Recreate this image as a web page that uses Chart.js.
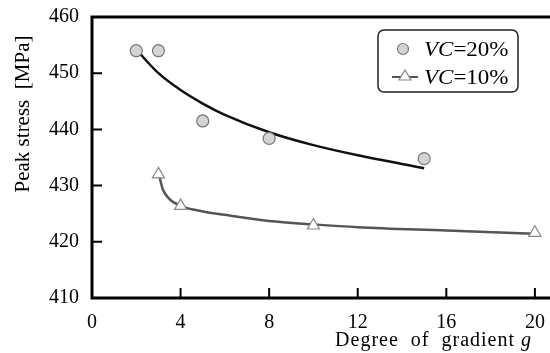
<!DOCTYPE html>
<html>
<head>
<meta charset="utf-8">
<script src="https://cdn.jsdelivr.net/npm/chart.js@4.4.0/dist/chart.umd.min.js"></script>
<style>
  html, body { margin:0; padding:0; background:#fff; }
  #wrap { width:550px; height:353px; position:relative; }
</style>
</head>
<body>
<div id="wrap"><canvas id="c" width="550" height="353"></canvas></div>
<script>
// measured points
const vc20X = [2, 3, 5, 8, 15];
const vc20Y = [454, 454, 441.5, 438.4, 434.8];
const vc10X = [3, 4, 10, 20];
const vc10Y = [432, 426.4, 422.9, 421.6];

// fitted curves
const fit20X = [2, 3, 4, 5, 6, 8, 10, 12, 15];
const fit20Y = [454.2, 450, 447, 444.6, 442.6, 439.5, 437.2, 435.4, 433.1];
const fit10X = [3.05, 3.2, 3.5, 4, 5, 6, 8, 10, 12, 16, 20];
const fit10Y = [431.5, 429.3, 427.6, 426.4, 425.4, 424.8, 423.7, 423.1, 422.6, 422, 421.4];

const xTicks = [0, 4, 8, 12, 16, 20];
const yTicks = [410, 420, 430, 440, 450, 460];

const SERIF = '"Liberation Serif", "DejaVu Serif", serif';
const pts = (xs, ys) => xs.map((x, i) => ({x, y: ys[i]}));

// text a bit wider than the font, like the scan
function wideText(ctx, str, x, y, sx) {
  ctx.save();
  ctx.translate(x, y);
  ctx.scale(sx, 1);
  ctx.fillText(str, 0, 0);
  ctx.restore();
  return ctx.measureText(str).width * sx;
}

const frame = {
  id: 'frame',
  afterDraw(chart) {
    const {ctx, chartArea: a, scales: {x, y}} = chart;
    ctx.save();
    ctx.strokeStyle = '#000';
    ctx.lineWidth = 3;
    ctx.beginPath();
    ctx.moveTo(a.left - 1.5, a.top); ctx.lineTo(550, a.top);
    ctx.moveTo(a.left, a.top); ctx.lineTo(a.left, a.bottom);
    ctx.moveTo(a.left - 1.5, a.bottom); ctx.lineTo(550, a.bottom);
    ctx.stroke();
    // inward ticks
    ctx.lineWidth = 2;
    ctx.beginPath();
    yTicks.forEach(v => { const py = y.getPixelForValue(v); ctx.moveTo(a.left, py); ctx.lineTo(a.left + 10, py); });
    xTicks.forEach(v => { const px = x.getPixelForValue(v); ctx.moveTo(px, a.bottom); ctx.lineTo(px, a.bottom - 10); });
    ctx.stroke();

    // axis titles
    ctx.fillStyle = '#000';
    ctx.font = '21px ' + SERIF;
    ctx.textBaseline = 'middle';
    ctx.save();
    ctx.translate(23, 114);
    ctx.rotate(-Math.PI / 2);
    ctx.textAlign = 'center';
    ctx.fillText('Peak stress  [MPa]', 0, 0);
    ctx.restore();

    ctx.textAlign = 'left';
    ctx.textBaseline = 'alphabetic';
    ctx.letterSpacing = '1px';
    const t1 = 'Degree  of  gradient ';
    ctx.font = '20px ' + SERIF;
    const w1 = ctx.measureText(t1).width;
    ctx.font = 'italic 20px ' + SERIF;
    const w2 = ctx.measureText('g').width;
    let sx = 532 - w1 - w2;
    ctx.font = '20px ' + SERIF;
    ctx.fillText(t1, sx, 346);
    ctx.font = 'italic 20px ' + SERIF;
    ctx.fillText('g', sx + w1, 346);
    ctx.letterSpacing = '0px';

    // legend
    ctx.lineWidth = 1.5;
    ctx.strokeStyle = '#222';
    ctx.beginPath();
    ctx.roundRect(378, 30, 140, 62, 6);
    ctx.stroke();

    ctx.beginPath();
    ctx.arc(403, 49, 5.5, 0, Math.PI * 2);
    ctx.fillStyle = '#d4d4d4';
    ctx.fill();
    ctx.strokeStyle = '#777';
    ctx.lineWidth = 1.2;
    ctx.stroke();

    ctx.strokeStyle = '#555';
    ctx.lineWidth = 2;
    ctx.beginPath(); ctx.moveTo(392, 77); ctx.lineTo(418, 77); ctx.stroke();
    ctx.beginPath();
    ctx.moveTo(405, 70); ctx.lineTo(411, 80); ctx.lineTo(399, 80); ctx.closePath();
    ctx.fillStyle = '#fff'; ctx.fill();
    ctx.strokeStyle = '#888'; ctx.lineWidth = 1.2; ctx.stroke();

    ctx.fillStyle = '#000';
    [['20%', 56], ['10%', 84]].forEach(([lab, by]) => {
      let tx = 424;
      ctx.font = 'italic 20px ' + SERIF;
      tx += wideText(ctx, 'VC', tx, by, 1.15);
      ctx.font = '20px ' + SERIF;
      wideText(ctx, '=' + lab, tx, by, 1.15);
    });
    ctx.restore();
  }
};

new Chart(document.getElementById('c'), {
  type: 'scatter',
  data: {
    datasets: [
      { data: pts(fit20X, fit20Y), showLine: true, borderColor: '#111', borderWidth: 2.5,
        pointRadius: 0, cubicInterpolationMode: 'monotone', order: 2 },
      { data: pts(fit10X, fit10Y), showLine: true, borderColor: '#555', borderWidth: 2.5,
        pointRadius: 0, cubicInterpolationMode: 'monotone', order: 2 },
      { data: pts(vc20X, vc20Y), pointStyle: 'circle', pointRadius: 6,
        backgroundColor: '#d4d4d4', borderColor: '#777', borderWidth: 1.2, order: 1 },
      { data: pts(vc10X, vc10Y), pointStyle: 'triangle', pointRadius: 7, clip: false,
        backgroundColor: '#fff', borderColor: '#888', borderWidth: 1.2, order: 1 }
    ]
  },
  options: {
    responsive: false,
    animation: false,
    layout: { padding: { top: 12, right: 0, left: 0, bottom: 0 } },
    plugins: { legend: { display: false }, tooltip: { enabled: false } },
    scales: {
      x: {
        type: 'linear', min: 0, max: 20.27,
        afterBuildTicks: s => { s.ticks = xTicks.map(v => ({value: v})); },
        afterFit: s => { s.height = 55; },
        grid: { display: false },
        border: { display: false },
        ticks: { color: '#000', font: { family: SERIF, size: 20 }, padding: 5, maxRotation: 0 }
      },
      y: {
        type: 'linear', min: 410, max: 460,
        afterBuildTicks: s => { s.ticks = yTicks.map(v => ({value: v})); },
        afterFit: s => { s.width = 92; },
        grid: { display: false },
        border: { display: false },
        ticks: { color: '#000', font: { family: SERIF, size: 20 }, padding: 5 }
      }
    }
  },
  plugins: [frame]
});
</script>
</body>
</html>
